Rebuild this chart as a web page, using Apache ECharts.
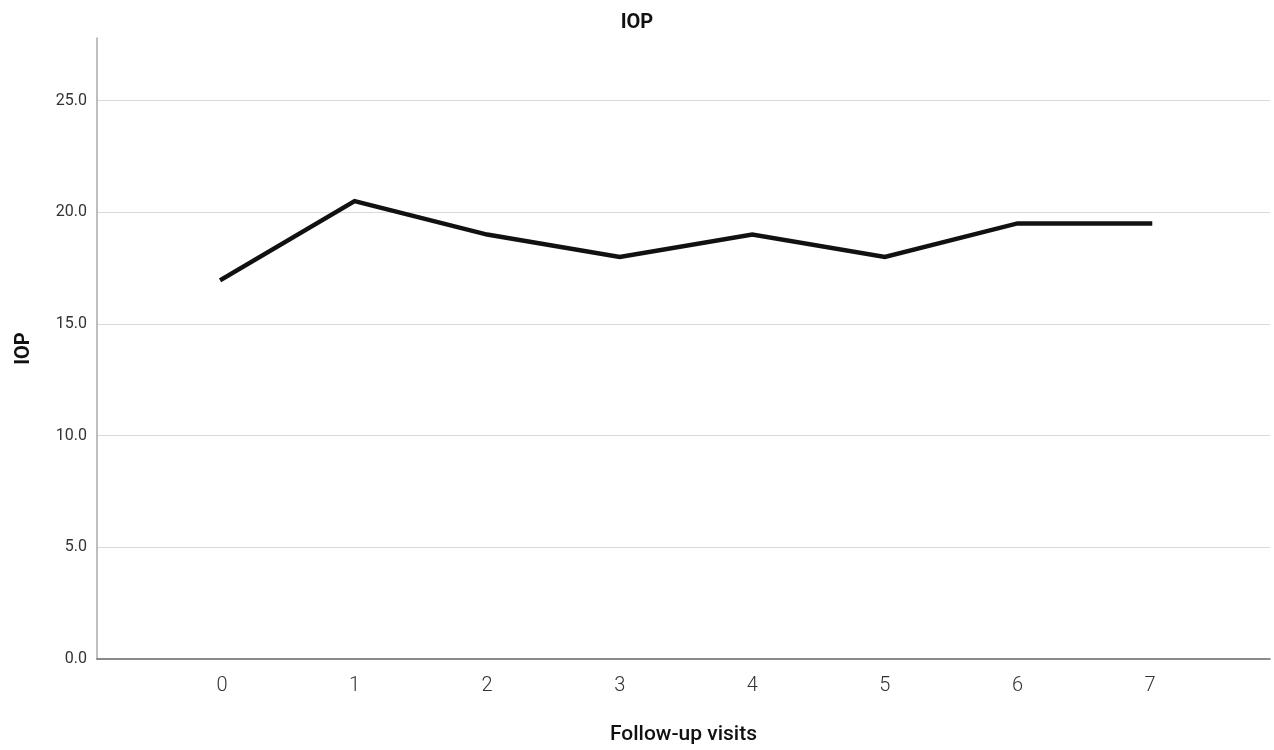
<!DOCTYPE html>
<html>
<head>
<meta charset="utf-8">
<script src="https://cdn.jsdelivr.net/npm/echarts@6/dist/echarts.min.js"></script>
<style>
  html, body { margin: 0; padding: 0; background: #fff; }
  #main { width: 1274px; height: 750px; }
</style>
</head>
<body>
<div id="main"></div>
<script>
  // follow-up visits and mean IOP at each visit
  var visits = [0, 1, 2, 3, 4, 5, 6, 7];
  var iopValues = [17.0, 20.5, 19.0, 18.0, 19.0, 18.0, 19.5, 19.5];
  var yTicks = [0, 5, 10, 15, 20, 25];

  var myChart = echarts.init(document.getElementById('main'));

  var option = {
    backgroundColor: '#fff',
    animation: false,
    title: {
      text: 'IOP',
      left: 'center',
      top: 8,
      textStyle: { fontFamily: 'Roboto', fontSize: 20, fontWeight: 'bold', color: '#111' }
    },
    grid: { left: 97, right: 4, top: 38, bottom: 91, outerBoundsMode: 'none', containLabel: false },
    xAxis: {
      type: 'value',
      min: -0.943,
      max: 7.905,
      name: 'Follow-up visits',
      nameLocation: 'middle',
      nameGap: 65,
      nameTextStyle: { fontFamily: 'Roboto', fontSize: 21, fontWeight: 500, color: '#111' },
      axisLine: { show: true, onZero: false, lineStyle: { color: '#666', width: 1.5 } },
      axisTick: { show: false },
      splitLine: { show: false },
      axisLabel: {
        customValues: visits,
        margin: 17,
        fontFamily: 'Roboto',
        fontSize: 20,
        fontWeight: 300,
        color: '#333',
        formatter: function (v) { return String(Math.round(v)); }
      }
    },
    yAxis: {
      type: 'value',
      min: 0,
      max: 27.8,
      interval: 5,
      name: 'IOP',
      nameLocation: 'middle',
      nameGap: 63,
      nameRotate: 90,
      nameTextStyle: { fontFamily: 'Roboto', fontSize: 20, fontWeight: 'bold', color: '#111' },
      axisLine: { show: true, onZero: false, lineStyle: { color: '#aaa', width: 1.5 } },
      axisTick: { show: false },
      axisLabel: {
        customValues: yTicks,
        margin: 10,
        fontFamily: 'Roboto',
        fontSize: 16,
        color: '#333',
        formatter: function (v) { return v.toFixed(1); }
      },
      splitLine: {
        show: true,
        showMinLine: false,
        showMaxLine: false,
        lineStyle: { color: '#d9d9d9', width: 1 }
      }
    },
    series: [{
      type: 'line',
      data: visits.map(function (v, i) { return [v, iopValues[i]]; }),
      showSymbol: false,
      symbol: 'none',
      lineStyle: { color: '#111', width: 4.5, cap: 'square', join: 'miter' }
    }]
  };

  myChart.setOption(option);
</script>
</body>
</html>
